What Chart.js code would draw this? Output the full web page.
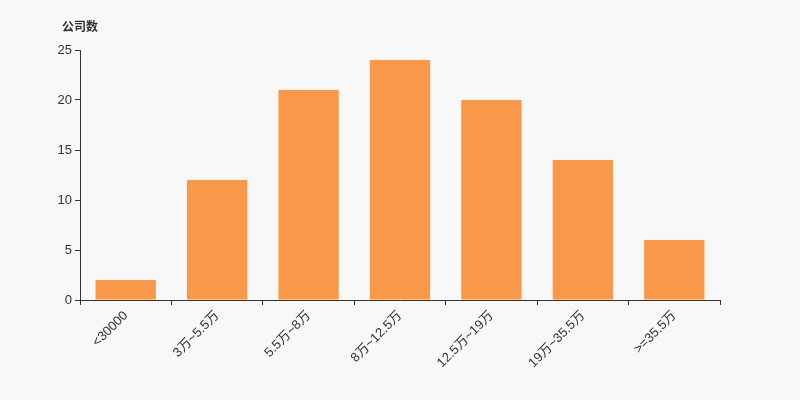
<!DOCTYPE html>
<html>
<head>
<meta charset="utf-8">
<script src="https://cdn.jsdelivr.net/npm/chart.js@4"></script>
<style>
  html, body { margin: 0; padding: 0; background: #f8f8f8; }
  #wrap { width: 800px; height: 400px; }
</style>
</head>
<body>
<div id="wrap"><canvas id="chart" width="800" height="400"></canvas></div>
<script>
const categories = ['<30000', '3万~5.5万', '5.5万~8万', '8万~12.5万', '12.5万~19万', '19万~35.5万', '>=35.5万'];
const companyCounts = [2, 12, 21, 24, 20, 14, 6];
const yTicks = [0, 5, 10, 15, 20, 25];
const yAxisName = '公司数';

const fontFamily = '"Liberation Sans", Arial, "Noto Sans CJK SC", sans-serif';

// axis name drawn above the y axis, like the original
const axisNamePlugin = {
    id: 'axisName',
    afterDraw(chart) {
        const c = chart.ctx;
        c.save();
        c.fillStyle = '#333';
        c.font = 'bold 12px ' + fontFamily;
        c.textAlign = 'left';
        c.textBaseline = 'middle';
        c.fillText(yAxisName, 62, 28);
        c.restore();
    }
};

const ctx = document.getElementById('chart').getContext('2d');

const chart = new Chart(ctx, {
    type: 'bar',
    data: {
        labels: categories,
        datasets: [{
            data: companyCounts,
            backgroundColor: '#f89848',
            barPercentage: 0.66,
            categoryPercentage: 1
        }]
    },
    options: {
        responsive: false,
        animation: false,
        layout: {
            padding: { left: 40, right: 80, top: 50, bottom: 0 }
        },
        plugins: {
            legend: { display: false },
            tooltip: { enabled: false }
        },
        scales: {
            x: {
                grid: { drawOnChartArea: false, drawTicks: true, tickLength: 5, color: '#333' },
                border: { display: true, color: '#333' },
                ticks: {
                    color: '#333',
                    minRotation: 45,
                    maxRotation: 45,
                    padding: 3,
                    font: { size: 13, family: fontFamily }
                },
                afterFit: (scale) => { scale.height = 100; }
            },
            y: {
                min: 0,
                max: 25,
                afterBuildTicks: (scale) => { scale.ticks = yTicks.map(v => ({ value: v })); },
                grid: { drawOnChartArea: false, drawTicks: true, tickLength: 5, color: '#333' },
                border: { display: true, color: '#333' },
                ticks: {
                    color: '#333',
                    padding: 3,
                    font: { size: 13, family: fontFamily }
                },
                afterFit: (scale) => { scale.width = 40; }
            }
        }
    },
    plugins: [axisNamePlugin]
});
</script>
</body>
</html>
